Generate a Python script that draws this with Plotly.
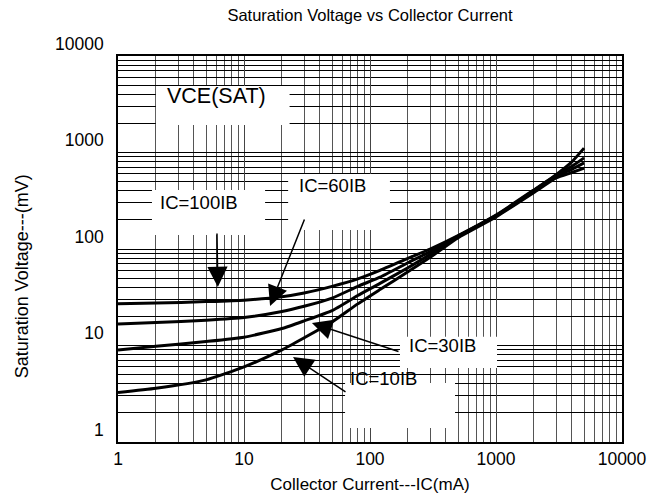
import math
import plotly.graph_objects as go

# ---- data ----
ic_ma = [1, 2, 5, 10, 20, 30, 50, 80, 120, 200, 300, 500, 1000, 2000, 3000, 4000, 5000]
vce_100ib = [27, 27.5, 28.5, 29.5, 32, 35, 41, 49, 60, 80, 100, 138, 225, 410, 590, 800, 1110]
vce_60ib = [16.7, 17.3, 18.3, 19.5, 22.5, 25.5, 31, 41, 51, 72, 94, 136, 222, 405, 580, 720, 880]
vce_30ib = [9, 9.8, 11, 12.2, 15, 18, 23, 33, 44, 64, 88, 134, 220, 395, 565, 670, 780]
vce_10ib = [3.25, 3.6, 4.4, 6, 9, 12, 17.5, 27, 38, 58, 82, 131, 215, 385, 545, 620, 690]

tick_vals = [1, 10, 100, 1000, 10000]
tick_text = ["1", "10", "100", "1000", "10000"]
minor_vals = [m * 10 ** d for d in range(0, 4) for m in range(2, 10)]

FONT = "Liberation Sans, Arial, sans-serif"

fig = go.Figure()
for ys in (vce_100ib, vce_60ib, vce_30ib, vce_10ib):
    fig.add_trace(go.Scatter(x=ic_ma, y=ys, mode="lines",
                             line=dict(color="black", width=3, shape="spline", smoothing=0.5),
                             showlegend=False, hoverinfo="skip"))

L = math.log10

# white label boxes (data units: x0, x1 in mA, y0, y1 in mV)
boxes = [
    (2.0, 23.0, 1928, 4900),    # VCE(SAT)
    (1.86, 14.7, 140, 409),     # IC=100IB
    (22.4, 144, 157, 600),      # IC=60IB
    (173, 1019, 5.85, 12.3),    # IC=30IB
    (63.4, 473, 1.40, 4.09),    # IC=10IB
]
for x0, x1, y0, y1 in boxes:
    fig.add_shape(type="rect", xref="x", yref="y", x0=x0, x1=x1, y0=y0, y1=y1,
                  fillcolor="white", line=dict(width=0), layer="between")

# labels: (text, x mA, y mV, font size)
labels = [
    ("VCE(SAT)", 2.36, 3850, 21.5),
    ("IC=100IB", 2.08, 300, 18.5),
    ("IC=60IB", 26.4, 460, 18.5),
    ("IC=30IB", 197, 10.1, 18.5),
    ("IC=10IB", 66.9, 4.6, 18.5),
]
for txt, x, y, sz in labels:
    fig.add_annotation(x=L(x), y=L(y), xref="x", yref="y", text=txt, showarrow=False,
                       xanchor="left", yanchor="middle",
                       font=dict(family=FONT, size=sz, color="black"))

# arrows: (tip x, tip y, tail x, tail y) in mA / mV
arrows = [
    (6.2, 40.4, 6.1, 150),
    (16.1, 25.7, 30.5, 210),
    (34.6, 17.1, 173, 8.57),
    (24.5, 7.6, 65.7, 3.22),
]
for tx, ty, sx, sy in arrows:
    fig.add_annotation(x=L(tx), y=L(ty), ax=L(sx), ay=L(sy), xref="x", yref="y",
                       axref="x", ayref="y", text="", showarrow=True,
                       arrowhead=2, arrowsize=2.7, arrowwidth=1.5, arrowcolor="black")

# y-axis title (placed as in the reference, a little below the plot middle)
fig.add_annotation(text="Saturation Voltage---(mV)", xref="paper", yref="paper",
                   x=-0.19, y=0.43, xanchor="center", yanchor="middle", textangle=-90,
                   showarrow=False, font=dict(family=FONT, size=18, color="black"))

fig.update_layout(
    width=667, height=504,
    margin=dict(l=118, r=45, t=56, b=62),
    paper_bgcolor="white", plot_bgcolor="white",
    title=dict(text="Saturation Voltage vs Collector Current", xref="paper", x=0.5,
               xanchor="center", y=1 - 15 / 504, yanchor="middle",
               font=dict(family=FONT, size=16.5, color="black")),
    font=dict(family=FONT, color="black"),
)
fig.update_xaxes(
    type="log", range=[0, 4], tickmode="array", tickvals=tick_vals, ticktext=tick_text,
    tickfont=dict(family=FONT, size=17.5, color="black"), ticks="", ticklabelstandoff=0,
    showgrid=True, gridcolor="#444", gridwidth=1,
    minor=dict(tickmode="array", tickvals=minor_vals, showgrid=True, gridcolor="#555", gridwidth=1),
    showline=True, linecolor="black", linewidth=1.5, mirror=True,
    title=dict(text="Collector Current---IC(mA)", font=dict(family=FONT, size=17, color="black"),
               standoff=10),
    zeroline=False,
)
fig.update_yaxes(
    type="log", range=[0, 4], tickmode="array", tickvals=tick_vals, ticktext=tick_text,
    tickfont=dict(family=FONT, size=17.5, color="black"), ticks="",
    ticklabelposition="outside top", ticklabelstandoff=9,
    showgrid=True, gridcolor="black", gridwidth=1,
    minor=dict(tickmode="array", tickvals=minor_vals, showgrid=True, gridcolor="black", gridwidth=1),
    showline=True, linecolor="black", linewidth=1.5, mirror=True,
    zeroline=False,
)

fig.write_html("out.html")
